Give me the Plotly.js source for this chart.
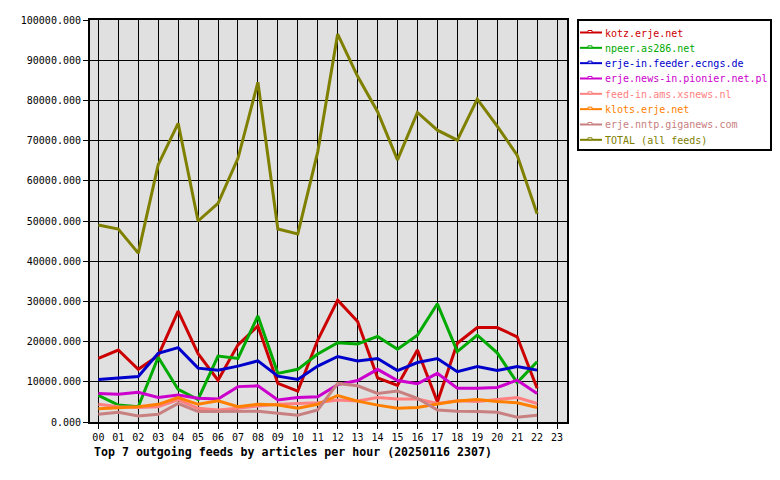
<!DOCTYPE html>
<html>
<head>
<meta charset="utf-8">
<script src="https://cdn.plot.ly/plotly-3.0.1.min.js"></script>
<style>html,body{margin:0;padding:0;background:#fff;}#chart{width:780px;height:480px;}</style>
</head>
<body>
<div id="chart"></div>
<script>
// ---- data ----
const hours = ['00','01','02','03','04','05','06','07','08','09','10','11','12','13','14','15','16','17','18','19','20','21','22','23'];
const feedNames = ['kotz.erje.net','npeer.as286.net','erje-in.feeder.ecngs.de','erje.news-in.pionier.net.pl','feed-in.ams.xsnews.nl','klots.erje.net','erje.nntp.giganews.com','TOTAL (all feeds)'];
const kotz    = [15800,17900,13100,16500,27600,17000,10400,19200,23900,9600,7700,20400,30300,25000,11000,9100,17900,5000,19600,23500,23500,21200,8400];
const npeer   = [6600,4200,3800,16100,8100,5600,16400,15800,26400,12100,13100,16900,19700,19400,21300,18100,21600,29400,17500,21600,17200,9800,15000];
const ecngs   = [10600,10900,11300,17100,18500,13400,12900,13900,15200,11400,10600,13900,16300,15200,15800,12800,14800,15800,12500,13800,12800,13800,12900];
const pionier = [7100,6900,7400,6100,6700,5900,5700,8800,9000,5500,6100,6300,9300,10300,13100,10300,9500,12100,8400,8400,8600,10400,7100];
const xsnews  = [4400,3800,3600,3800,5500,3400,3000,3400,4000,4400,4600,4800,5500,5200,6100,5700,5700,4600,5300,5100,5600,6100,4600];
const klots   = [3300,3600,3800,4400,6100,4400,5300,3800,4400,4200,3400,4400,6600,5200,4200,3400,3600,4500,5200,5600,5100,4800,3600];
const giganews= [1900,2400,1500,1900,4600,2600,2600,2700,2700,2200,1700,3000,9600,9000,7100,7700,5900,3000,2700,2600,2400,1200,1700];
const total   = [49000,48000,42000,64000,74300,50000,54400,65600,84500,48000,46800,67200,96500,86000,77200,65200,77000,72600,70100,80300,73600,66400,51800];
const titleText = 'Top 7 outgoing feeds by articles per hour (20250116 2307)';

// ---- styles ----
const colors = ['#cc0000','#00aa00','#0000cc','#cc00cc','#ff8080','#ff8000','#c88080','#808000'];
const series = [kotz, npeer, ecngs, pionier, xsnews, klots, giganews, total];
const MONO = 'DejaVu Sans Mono, Liberation Mono, monospace';

const xIdx = series[0].map((_, i) => i);
const traces = series.map((vals, k) => ({
  x: xIdx, y: vals, type: 'scatter', mode: 'lines', name: feedNames[k],
  line: {color: colors[k], width: 3}, showlegend: false, hoverinfo: 'skip'
}));

// pixel helpers for the plot frame
const L = 90, R = 567, T = 20, B = 422;
const px = v => (v - L) / (R - L);
const py = v => (B - v) / (B - T);

const shapes = [];
const annotations = [];
// manual legend box
shapes.push({type:'rect', xref:'paper', yref:'paper', x0:px(578), x1:px(771), y0:py(20), y1:py(150),
  line:{color:'#000', width:2}, fillcolor:'#fff', layer:'above'});
feedNames.forEach((nm, i) => {
  const yc = 32.5 + 15.33 * i;
  shapes.push({type:'line', xref:'paper', yref:'paper', x0:px(580), x1:px(602), y0:py(yc), y1:py(yc),
    line:{color:colors[i], width:2}, layer:'above'});
  shapes.push({type:'rect', xref:'paper', yref:'paper', x0:px(588), x1:px(592), y0:py(yc-2), y1:py(yc),
    line:{color:colors[i], width:1}, fillcolor:'#fff', layer:'above'});
  annotations.push({xref:'paper', yref:'paper', x:px(603), y:py(yc+0.5), xanchor:'left', yanchor:'middle',
    text:nm, showarrow:false, font:{family:MONO, size:10, color:colors[i]}});
});
annotations.push({xref:'paper', yref:'paper', x:px(92), y:py(452), xanchor:'left', yanchor:'middle',
  text:'<b>' + titleText + '</b>', showarrow:false, font:{family:MONO, size:11.6, color:'#000'}});

const layout = {
  width: 780, height: 480,
  margin: {l: L, r: 780 - R, t: T, b: 480 - B, pad: 0},
  paper_bgcolor: '#ffffff', plot_bgcolor: '#e0e0e0',
  showlegend: false,
  font: {family: MONO, size: 10, color: '#000'},
  xaxis: {
    range: [-0.42, 23.5], tickmode: 'array', tickvals: hours.map((_, i) => i), ticktext: hours,
    showgrid: true, gridcolor: '#000', gridwidth: 1, zeroline: false,
    showline: true, linecolor: '#000', linewidth: 2, mirror: true,
    ticks: 'outside', ticklen: 5, tickcolor: '#000', tickwidth: 1,
    tickfont: {family: MONO, size: 10, color: '#000'}, fixedrange: true
  },
  yaxis: {
    range: [0, 100000], dtick: 10000, tick0: 0, tickformat: '.3f',
    showgrid: true, gridcolor: '#000', gridwidth: 1, zeroline: false,
    showline: true, linecolor: '#000', linewidth: 2, mirror: true,
    ticks: 'outside', ticklen: 5, tickcolor: '#000', tickwidth: 1,
    tickfont: {family: MONO, size: 10, color: '#000'}, fixedrange: true
  },
  shapes: shapes,
  annotations: annotations
};

Plotly.newPlot('chart', traces, layout, {staticPlot: true, displayModeBar: false});
</script>
</body>
</html>
